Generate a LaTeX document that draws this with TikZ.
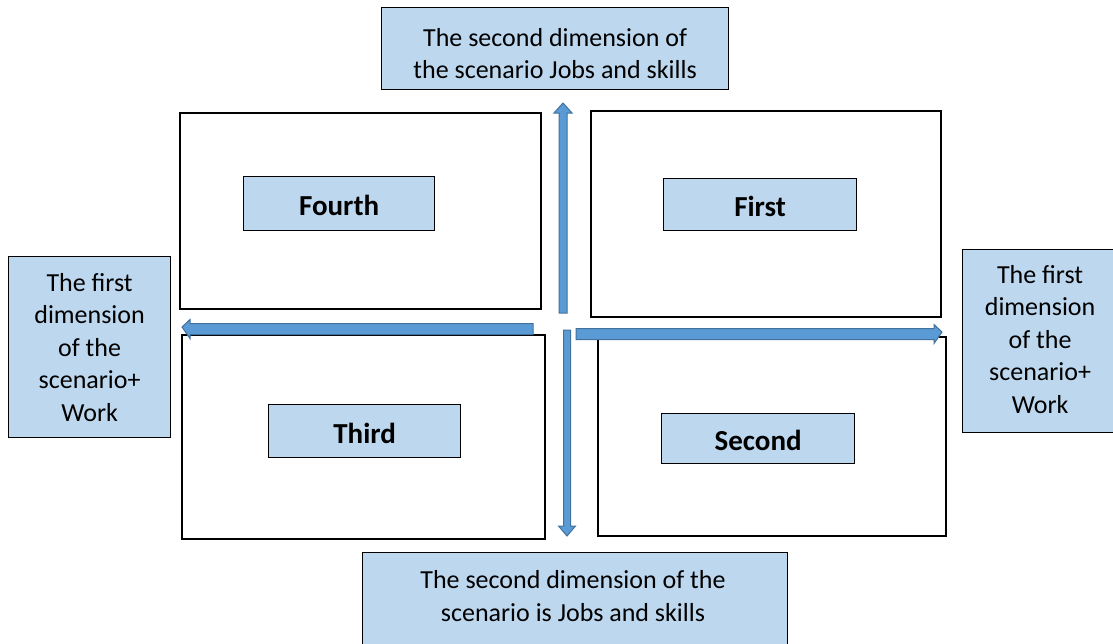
\documentclass[tikz,border=0pt]{standalone}
\usepackage{fontspec}
\setmainfont{Carlito}
\definecolor{lblue}{HTML}{BDD7EE}
\definecolor{afill}{HTML}{5B9BD5}
\definecolor{aedge}{HTML}{41719C}
\begin{document}
\begin{tikzpicture}[x=1pt,y=-1pt,
  quad/.style={draw=black, line width=1.8pt, fill=white, anchor=north west, inner sep=0pt},
  lbl/.style={draw=black, line width=1.2pt, fill=lblue, anchor=north west, inner sep=0pt},
  txt/.style={align=center, font=\fontsize{26}{32.5}\selectfont},
  btxt/.style={font=\fontsize{29}{32}\selectfont\bfseries, yshift=-2pt},
  fat/.style={fill=afill, draw=aedge, line width=1pt, line join=miter}]
\useasboundingbox (0,0) rectangle (1113,643);
\fill[white] (0,0) rectangle (1113,643);
% quadrant boxes
\node[quad, minimum width=361pt, minimum height=196pt] (q4) at (179,112) {};
\node[quad, minimum width=350pt, minimum height=206pt] (q1) at (590,110) {};
\node[quad, minimum width=363pt, minimum height=204pt] (q3) at (181,334) {};
\node[quad, minimum width=348pt, minimum height=199pt] (q2) at (597,336) {};
% inner labels
\node[lbl, minimum width=191pt, minimum height=54pt] (l4) at (243,176) {};
\node[btxt] at (l4.center) (t4) {Fourth};
\node[lbl, minimum width=193pt, minimum height=52pt] (l1) at (663,178) {};
\node[btxt] at (l1.center) (t1) {First};
\node[lbl, minimum width=192pt, minimum height=53pt] (l3) at (268,404) {};
\node[btxt] at (l3.center) (t3) {Third};
\node[lbl, minimum width=193pt, minimum height=50pt] (l2) at (661,413) {};
\node[btxt] at (l2.center) (t2) {Second};
% outer labels
\node[lbl, minimum width=347pt, minimum height=82pt] (top) at (381,7) {};
\node[txt, yshift=-5pt] at (top.center) (ttop) {The second dimension of\\the scenario Jobs and skills};
\node[lbl, minimum width=425pt, minimum height=98pt] (bot) at (362,552) {};
\node[txt] at (573,596) (tbot) {The second dimension of the\\scenario is Jobs and skills};
\node[lbl, minimum width=162pt, minimum height=181pt] (left) at (8,256) {};
\node[txt] at (left.center) (tleft) {The first\\dimension\\of the\\scenario+\\Work};
\node[lbl, minimum width=155pt, minimum height=183pt] (right) at (962,249) {};
\node[txt, yshift=2pt] at (right.center) (tright) {The first\\dimension\\of the\\scenario+\\Work};
% axis arrows
\coordinate (up0) at (563,313);
\coordinate (up1) at (563,103);
\draw[fat] (up0) ++(-4,0) -- ++(0,-200) -- ++(-5,0) -- (up1) -- ++(9,10) -- ++(-5,0) -- ++(0,200) -- cycle;
\coordinate (lf0) at (533,327);
\coordinate (lf1) at (182,327);
\draw[fat] (lf0) ++(0,-3.5) -- ++(-343,0) -- ++(0,-4) -- (lf1) -- ++(8,11.5) -- ++(0,-4) -- ++(343,0) -- cycle;
\coordinate (rt0) at (576,332);
\coordinate (rt1) at (942,332);
\draw[fat] (rt0) ++(0,-3.5) -- ++(358,0) -- ++(0,-4) -- (rt1) -- ++(-8,11.5) -- ++(0,-4) -- ++(-358,0) -- cycle;
\coordinate (dn0) at (567,330);
\coordinate (dn1) at (567,536);
\draw[fat] (dn0) ++(-3.5,0) -- ++(0,196) -- ++(-5,0) -- (dn1) -- ++(8.5,-10) -- ++(-5,0) -- ++(0,-196) -- cycle;
\end{tikzpicture}
\end{document}
